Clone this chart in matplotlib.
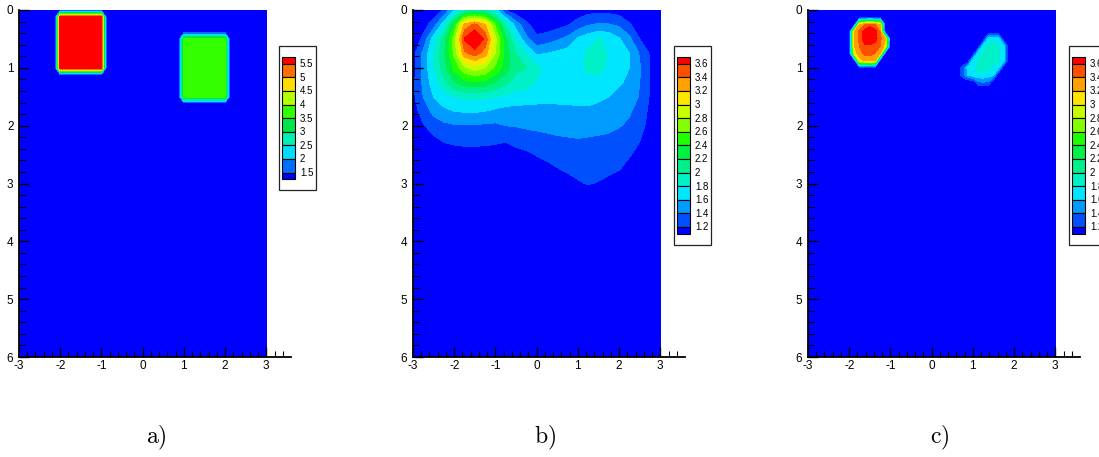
import numpy as np
import matplotlib
matplotlib.use("Agg")
import matplotlib.pyplot as plt
from matplotlib.patches import Rectangle
from matplotlib.ticker import FixedLocator

plt.rcParams['font.family'] = ['Liberation Sans', 'DejaVu Sans']
plt.rcParams['mathtext.fontset'] = 'cm'
plt.rcParams['axes.unicode_minus'] = False

W, H = 1099, 457

# ---- a) modelo verdadeiro: dois blocos sobre fundo homogeneo
bloco_x0 = [-2.0, 1.0]
bloco_x1 = [-1.0, 2.0]
bloco_y0 = [0.125, 0.5]
bloco_y1 = [1.0, 1.5]
bloco_valor = [6.0, 3.8]
fundo = 1.0

niveis_a = [1.5, 2, 2.5, 3, 3.5, 4, 4.5, 5, 5.5]
cores_a = ['#0000ff', '#006eff', '#00dcff', '#00f0b4', '#00e646',
           '#32ff00', '#b4ff00', '#ffdc00', '#ff6e00', '#ff0000']

# ---- b) e c) escala comum
niveis_bc = [1.2, 1.4, 1.6, 1.8, 2.0, 2.2, 2.4, 2.6, 2.8, 3.0, 3.2, 3.4, 3.6]
cores_bc = ['#0000ff', '#0050ff', '#009bff', '#00e6ff', '#00f0c8',
            '#00f08c', '#00f046', '#1eff00', '#82ff00', '#c8ff00',
            '#ffe600', '#ffa000', '#ff5000', '#ff0000']

# b) malha 0.25 (x de -3 a 3, y de 0 a 3.25)
b_linhas = [
    [1.0, 1.0, 1.05, 1.22, 1.6, 1.9, 2.0, 1.95, 1.7, 1.2, 1.05, 1.0, 1.0, 1.0, 1.0, 1.05, 1.1, 1.12, 1.14, 1.13, 1.1, 1.05, 1.0, 1.0, 1.0],
    [1.0, 1.1, 1.3, 1.7, 2.35, 3.25, 3.45, 3.2, 2.55, 1.95, 1.5, 1.25, 1.08, 1.08, 1.12, 1.18, 1.27, 1.38, 1.42, 1.41, 1.36, 1.22, 1.1, 1.02, 1.0],
    [1.05, 1.25, 1.7, 2.1, 2.7, 3.62, 3.85, 3.55, 2.85, 2.25, 1.8, 1.45, 1.25, 1.3, 1.37, 1.45, 1.63, 1.72, 1.81, 1.75, 1.62, 1.45, 1.2, 1.05, 1.0],
    [1.12, 1.45, 1.8, 2.15, 2.65, 3.35, 3.5, 3.3, 2.8, 2.3, 2.0, 1.8, 1.57, 1.6, 1.65, 1.68, 1.72, 1.83, 1.9, 1.78, 1.7, 1.6, 1.38, 1.18, 1.0],
    [1.12, 1.45, 1.8, 2.1, 2.45, 2.75, 2.9, 2.8, 2.55, 2.3, 2.05, 2.0, 1.85, 1.75, 1.72, 1.72, 1.75, 1.83, 1.86, 1.76, 1.7, 1.6, 1.42, 1.2, 1.02],
    [1.15, 1.45, 1.7, 1.95, 2.2, 2.33, 2.37, 2.33, 2.2, 2.05, 1.92, 1.9, 1.78, 1.72, 1.7, 1.7, 1.72, 1.75, 1.74, 1.7, 1.63, 1.55, 1.4, 1.2, 1.02],
    [1.15, 1.4, 1.6, 1.72, 1.8, 1.84, 1.85, 1.84, 1.8, 1.76, 1.72, 1.7, 1.68, 1.67, 1.66, 1.66, 1.66, 1.65, 1.63, 1.6, 1.53, 1.47, 1.39, 1.18, 1.02],
    [1.1, 1.3, 1.45, 1.55, 1.6, 1.62, 1.62, 1.6, 1.56, 1.52, 1.52, 1.52, 1.52, 1.53, 1.54, 1.55, 1.56, 1.57, 1.55, 1.52, 1.48, 1.42, 1.33, 1.15, 1.0],
    [1.02, 1.18, 1.3, 1.35, 1.38, 1.38, 1.38, 1.37, 1.36, 1.4, 1.41, 1.43, 1.44, 1.45, 1.46, 1.47, 1.47, 1.47, 1.46, 1.44, 1.41, 1.37, 1.28, 1.12, 1.0],
    [1.0, 1.05, 1.15, 1.22, 1.25, 1.26, 1.26, 1.25, 1.24, 1.22, 1.28, 1.3, 1.33, 1.35, 1.37, 1.38, 1.39, 1.38, 1.37, 1.36, 1.33, 1.28, 1.21, 1.05, 1.0],
    [1.0, 1.0, 1.02, 1.08, 1.1, 1.12, 1.12, 1.12, 1.1, 1.08, 1.12, 1.16, 1.21, 1.24, 1.28, 1.3, 1.31, 1.31, 1.3, 1.28, 1.26, 1.22, 1.12, 1.0, 1.0],
    [1.0] * 11 + [1.05, 1.1, 1.15, 1.19, 1.23, 1.25, 1.26, 1.25, 1.24, 1.21, 1.12, 1.05, 1.0, 1.0],
    [1.0] * 12 + [1.02, 1.05, 1.08, 1.12, 1.18, 1.21, 1.19, 1.15, 1.1, 1.04, 1.0, 1.0, 1.0],
    [1.0] * 14 + [1.0, 1.02, 1.06, 1.08, 1.07, 1.04, 1.0, 1.0, 1.0, 1.0, 1.0],
]

# c) duas anomalias na malha 0.125
# esquerda: x de -2.0 a -1.0, y de 0.125 a 1.0
c_esq = [
    [1.0, 1.0, 1.0, 1.0, 1.0, 1.0, 1.0, 1.0, 1.0],
    [1.0, 1.0, 3.2, 3.4, 3.5, 3.4, 3.2, 1.0, 1.0],
    [1.0, 3.2, 3.45, 3.7, 3.8, 3.7, 3.4, 1.0, 1.0],
    [1.0, 3.2, 3.45, 3.75, 3.85, 3.7, 3.45, 3.2, 1.0],
    [1.0, 3.2, 3.4, 3.55, 3.55, 3.5, 3.4, 3.1, 1.0],
    [1.0, 3.1, 3.3, 3.45, 3.45, 3.4, 3.2, 1.0, 1.0],
    [1.0, 1.0, 3.1, 3.25, 3.3, 3.2, 1.0, 1.0, 1.0],
    [1.0, 1.0, 1.0, 1.0, 1.0, 1.0, 1.0, 1.0, 1.0],
]
# direita: x de 0.625 a 1.875, y de 0.375 a 1.375
c_dir = [
    [1.0, 1.0, 1.0, 1.0, 1.0, 1.0, 1.0, 1.0, 1.0, 1.0, 1.0],
    [1.0, 1.0, 1.0, 1.0, 1.0, 1.0, 1.7, 1.75, 1.7, 1.0, 1.0],
    [1.0, 1.0, 1.0, 1.0, 1.0, 1.7, 1.85, 1.9, 1.8, 1.7, 1.0],
    [1.0, 1.0, 1.0, 1.0, 1.7, 1.85, 1.95, 1.95, 1.85, 1.7, 1.0],
    [1.0, 1.0, 1.0, 1.7, 1.8, 1.9, 1.95, 1.9, 1.8, 1.65, 1.0],
    [1.0, 1.3, 1.65, 1.75, 1.85, 1.9, 1.85, 1.75, 1.65, 1.0, 1.0],
    [1.0, 1.3, 1.6, 1.7, 1.75, 1.75, 1.7, 1.6, 1.0, 1.0, 1.0],
    [1.0, 1.0, 1.0, 1.0, 1.35, 1.4, 1.35, 1.0, 1.0, 1.0, 1.0],
    [1.0, 1.0, 1.0, 1.0, 1.0, 1.0, 1.0, 1.0, 1.0, 1.0, 1.0],
]

legendas = ["a)", "b)", "c)"]

# malha fina
xf = np.arange(-3.0, 3.0001, 0.125)
yf = np.arange(0.0, 6.0001, 0.125)

campo_a = np.full((len(yf), len(xf)), fundo)
for x0, x1, y0, y1, v in zip(bloco_x0, bloco_x1, bloco_y0, bloco_y1, bloco_valor):
    campo_a[(yf[:, None] >= y0) & (yf[:, None] <= y1) &
            (xf[None, :] >= x0) & (xf[None, :] <= x1)] = v

campo_c = np.full((len(yf), len(xf)), fundo)
e = np.array(c_esq)
i0, j0 = int(round(0.125 / 0.125)), int(round((-2.0 + 3) / 0.125))
campo_c[i0:i0 + e.shape[0], j0:j0 + e.shape[1]] = e
d = np.array(c_dir)
i0, j0 = int(round(0.375 / 0.125)), int(round((0.625 + 3) / 0.125))
campo_c[i0:i0 + d.shape[0], j0:j0 + d.shape[1]] = d

xb = np.arange(-3.0, 3.0001, 0.25)
yb = np.concatenate([np.arange(0.0, 3.2501, 0.25), [3.5, 6.0]])
campo_b = np.vstack([np.array(b_linhas), np.full((2, len(xb)), fundo)])

fig = plt.figure(figsize=(W / 100, H / 100), dpi=100)


def painel(left_px, x, y, z, niveis, cores):
    ax = fig.add_axes([left_px / W, (H - 357) / H, 272 / W, 347 / H])
    lv = [0.0] + list(niveis) + [10.0]
    ax.contourf(x, y, z, levels=lv, colors=cores, antialiased=False)
    ax.set_xlim(-3, 3.6)
    ax.set_ylim(6, 0)
    for s in ["top", "right"]:
        ax.spines[s].set_visible(False)
    for s in ["left", "bottom"]:
        ax.spines[s].set_linewidth(1.3)
    ax.set_xticks(range(-3, 4))
    ax.set_yticks(range(0, 7))
    ax.xaxis.set_minor_locator(FixedLocator(np.arange(-3, 3.41, 0.2)))
    ax.yaxis.set_minor_locator(FixedLocator(np.arange(0, 6.01, 0.2)))
    ax.tick_params(which="major", direction="in", length=7, width=1,
                   labelsize=8.5, pad=2)
    ax.tick_params(which="minor", direction="in", length=4, width=0.8)
    ax.tick_params(axis="y", pad=4)
    return ax


painel(19, xf, yf, campo_a, niveis_a, cores_a)
painel(413, xb, yb, campo_b, niveis_bc, cores_bc)
painel(808, xf, yf, campo_c, niveis_bc, cores_bc)

# camada em pixels para as legendas de cor e os rotulos
ov = fig.add_axes([0, 0, 1, 1], zorder=10)
ov.set_xlim(0, W)
ov.set_ylim(H, 0)
ov.axis("off")
ov.patch.set_alpha(0)


def legenda(xbox, niveis, cores):
    n = len(niveis)
    passo = 13.6
    topo = 57
    altura = passo * n
    ov.add_patch(Rectangle((xbox, 46), 37, altura + 22, facecolor="white",
                           edgecolor="#222222", lw=0.9))
    xs = xbox + 3
    y = topo
    alturas = [passo / 2] + [passo] * (n - 1) + [passo / 2]
    for k in range(n + 1):
        cor = cores[n - k]
        ov.add_patch(Rectangle((xs, y), 13, alturas[k], facecolor=cor,
                               edgecolor="black", lw=0.8))
        y += alturas[k]
    for k, v in enumerate(reversed(niveis)):
        ov.text(xs + 18, topo + passo / 2 + k * passo + 0.5, f"{v:g}",
                fontsize=7, va="center", ha="left")


legenda(279, niveis_a, cores_a)
legenda(674, niveis_bc, cores_bc)
legenda(1069, niveis_bc, cores_bc)

for txt, xc in zip(legendas, [156, 545, 940]):
    ov.text(xc, 438, "$\\mathrm{" + txt + "}$", fontsize=17,
            ha="center", va="center")

fig.savefig("out.png", dpi=100)
